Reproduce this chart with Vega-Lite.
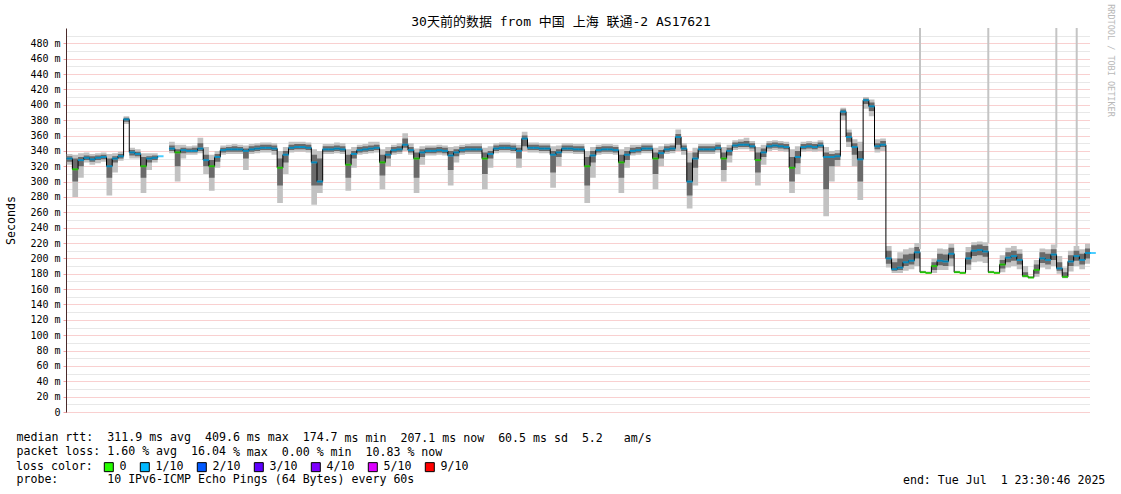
{
"$schema":"https://vega.github.io/schema/vega-lite/v6.json",
"width":1024,"height":384,
"autosize":{"type":"none"},
"padding":{"left":66,"top":28,"right":31,"bottom":82},
"background":"#ffffff",
"title":{"text":"30天前的数据 from 中国 上海 联通-2 AS17621","font":"DejaVu Sans Mono, Noto Sans CJK SC","fontSize":13,"fontWeight":"normal","color":"#000000","anchor":"middle","frame":"group","dx":-17,"offset":-25},
"config":{"view":{"stroke":null},"axis":{"labelFont":"DejaVu Sans Mono","titleFont":"DejaVu Sans Mono","labelColor":"#000000","titleColor":"#000000","titleFontWeight":"normal"}},
"datasets":{
"s":[
{"t":"2025-06-02T00:00","m":330,"lo":322,"a":326,"b":333,"hi":336,"l":"1/10"},
{"t":"2025-06-02T04:00","m":316,"lo":280,"a":300,"b":330,"hi":335,"l":"0"},
{"t":"2025-06-02T08:00","m":328,"lo":305,"a":320,"b":332,"hi":337,"l":"1/10"},
{"t":"2025-06-02T12:00","m":331,"lo":325,"a":328,"b":334,"hi":338,"l":"1/10"},
{"t":"2025-06-02T16:00","m":329,"lo":322,"a":326,"b":333,"hi":336,"l":"1/10"},
{"t":"2025-06-02T20:00","m":331,"lo":324,"a":328,"b":334,"hi":337,"l":"1/10"},
{"t":"2025-06-03T00:00","m":332,"lo":326,"a":329,"b":335,"hi":338,"l":"1/10"},
{"t":"2025-06-03T04:00","m":320,"lo":282,"a":305,"b":330,"hi":336,"l":"1/10"},
{"t":"2025-06-03T08:00","m":330,"lo":312,"a":325,"b":333,"hi":337,"l":"1/10"},
{"t":"2025-06-03T12:00","m":333,"lo":327,"a":330,"b":336,"hi":339,"l":"1/10"},
{"t":"2025-06-03T16:00","m":381,"lo":375,"a":378,"b":383,"hi":385,"l":"1/10"},
{"t":"2025-06-03T20:00","m":338,"lo":330,"a":334,"b":341,"hi":344,"l":"1/10"},
{"t":"2025-06-04T00:00","m":336,"lo":330,"a":333,"b":339,"hi":342,"l":"1/10"},
{"t":"2025-06-04T04:00","m":320,"lo":285,"a":305,"b":332,"hi":337,"l":"0"},
{"t":"2025-06-04T08:00","m":330,"lo":315,"a":325,"b":333,"hi":337,"l":"1/10"},
{"t":"2025-06-04T12:00","m":331,"lo":325,"a":328,"b":334,"hi":337,"l":"1/10"},
{"t":"2025-06-04T16:00","m":333,"lo":327,"a":330,"b":336,"hi":340,"l":"1/10"},
{"t":"2025-06-04T20:00","m":null,"lo":null,"a":null,"b":null,"hi":null,"l":"1/10"},
{"t":"2025-06-05T00:00","m":343,"lo":337,"a":340,"b":347,"hi":352,"l":"1/10"},
{"t":"2025-06-05T04:00","m":338,"lo":300,"a":320,"b":342,"hi":348,"l":"0"},
{"t":"2025-06-05T08:00","m":341,"lo":330,"a":337,"b":344,"hi":348,"l":"1/10"},
{"t":"2025-06-05T12:00","m":340,"lo":335,"a":338,"b":343,"hi":346,"l":"1/10"},
{"t":"2025-06-05T16:00","m":340,"lo":335,"a":338,"b":344,"hi":347,"l":"1/10"},
{"t":"2025-06-05T20:00","m":343,"lo":337,"a":340,"b":350,"hi":357,"l":"1/10"},
{"t":"2025-06-06T00:00","m":328,"lo":310,"a":320,"b":335,"hi":345,"l":"1/10"},
{"t":"2025-06-06T04:00","m":320,"lo":288,"a":305,"b":328,"hi":335,"l":"0"},
{"t":"2025-06-06T08:00","m":332,"lo":318,"a":326,"b":336,"hi":340,"l":"1/10"},
{"t":"2025-06-06T12:00","m":341,"lo":335,"a":338,"b":344,"hi":347,"l":"1/10"},
{"t":"2025-06-06T16:00","m":342,"lo":336,"a":339,"b":345,"hi":348,"l":"1/10"},
{"t":"2025-06-06T20:00","m":342,"lo":336,"a":339,"b":346,"hi":349,"l":"1/10"},
{"t":"2025-06-07T00:00","m":342,"lo":336,"a":339,"b":345,"hi":348,"l":"1/10"},
{"t":"2025-06-07T04:00","m":340,"lo":315,"a":330,"b":343,"hi":347,"l":"1/10"},
{"t":"2025-06-07T08:00","m":342,"lo":336,"a":339,"b":346,"hi":349,"l":"1/10"},
{"t":"2025-06-07T12:00","m":343,"lo":337,"a":340,"b":347,"hi":350,"l":"1/10"},
{"t":"2025-06-07T16:00","m":344,"lo":338,"a":341,"b":348,"hi":351,"l":"1/10"},
{"t":"2025-06-07T20:00","m":344,"lo":338,"a":341,"b":348,"hi":351,"l":"1/10"},
{"t":"2025-06-08T00:00","m":343,"lo":335,"a":340,"b":347,"hi":350,"l":"1/10"},
{"t":"2025-06-08T04:00","m":318,"lo":272,"a":295,"b":330,"hi":340,"l":"0"},
{"t":"2025-06-08T08:00","m":335,"lo":310,"a":325,"b":340,"hi":345,"l":"1/10"},
{"t":"2025-06-08T12:00","m":344,"lo":338,"a":341,"b":348,"hi":352,"l":"1/10"},
{"t":"2025-06-08T16:00","m":345,"lo":339,"a":342,"b":349,"hi":352,"l":"1/10"},
{"t":"2025-06-08T20:00","m":345,"lo":339,"a":342,"b":349,"hi":352,"l":"1/10"},
{"t":"2025-06-09T00:00","m":344,"lo":338,"a":341,"b":348,"hi":351,"l":"1/10"},
{"t":"2025-06-09T04:00","m":325,"lo":270,"a":295,"b":335,"hi":342,"l":"1/10"},
{"t":"2025-06-09T08:00","m":300,"lo":285,"a":295,"b":330,"hi":340,"l":"1/10"},
{"t":"2025-06-09T12:00","m":342,"lo":336,"a":339,"b":346,"hi":349,"l":"1/10"},
{"t":"2025-06-09T16:00","m":342,"lo":336,"a":339,"b":346,"hi":349,"l":"1/10"},
{"t":"2025-06-09T20:00","m":343,"lo":337,"a":340,"b":347,"hi":351,"l":"1/10"},
{"t":"2025-06-10T00:00","m":342,"lo":336,"a":339,"b":346,"hi":350,"l":"1/10"},
{"t":"2025-06-10T04:00","m":322,"lo":288,"a":305,"b":335,"hi":342,"l":"0"},
{"t":"2025-06-10T08:00","m":336,"lo":318,"a":330,"b":340,"hi":345,"l":"1/10"},
{"t":"2025-06-10T12:00","m":341,"lo":335,"a":338,"b":345,"hi":348,"l":"1/10"},
{"t":"2025-06-10T16:00","m":342,"lo":336,"a":339,"b":346,"hi":349,"l":"1/10"},
{"t":"2025-06-10T20:00","m":343,"lo":337,"a":340,"b":347,"hi":352,"l":"1/10"},
{"t":"2025-06-11T00:00","m":344,"lo":338,"a":341,"b":348,"hi":352,"l":"1/10"},
{"t":"2025-06-11T04:00","m":325,"lo":290,"a":308,"b":335,"hi":342,"l":"0"},
{"t":"2025-06-11T08:00","m":335,"lo":320,"a":330,"b":340,"hi":345,"l":"1/10"},
{"t":"2025-06-11T12:00","m":341,"lo":335,"a":338,"b":345,"hi":348,"l":"1/10"},
{"t":"2025-06-11T16:00","m":342,"lo":336,"a":339,"b":346,"hi":350,"l":"1/10"},
{"t":"2025-06-11T20:00","m":348,"lo":340,"a":344,"b":356,"hi":363,"l":"1/10"},
{"t":"2025-06-12T00:00","m":341,"lo":335,"a":338,"b":345,"hi":350,"l":"1/10"},
{"t":"2025-06-12T04:00","m":330,"lo":285,"a":305,"b":338,"hi":343,"l":"0"},
{"t":"2025-06-12T08:00","m":338,"lo":322,"a":332,"b":342,"hi":346,"l":"1/10"},
{"t":"2025-06-12T12:00","m":340,"lo":334,"a":337,"b":344,"hi":347,"l":"1/10"},
{"t":"2025-06-12T16:00","m":340,"lo":334,"a":337,"b":344,"hi":347,"l":"1/10"},
{"t":"2025-06-12T20:00","m":341,"lo":335,"a":338,"b":345,"hi":348,"l":"1/10"},
{"t":"2025-06-13T00:00","m":340,"lo":334,"a":337,"b":344,"hi":347,"l":"1/10"},
{"t":"2025-06-13T04:00","m":334,"lo":295,"a":315,"b":340,"hi":345,"l":"1/10"},
{"t":"2025-06-13T08:00","m":338,"lo":325,"a":333,"b":342,"hi":346,"l":"1/10"},
{"t":"2025-06-13T12:00","m":341,"lo":335,"a":338,"b":345,"hi":348,"l":"1/10"},
{"t":"2025-06-13T16:00","m":342,"lo":336,"a":339,"b":346,"hi":349,"l":"1/10"},
{"t":"2025-06-13T20:00","m":342,"lo":336,"a":339,"b":346,"hi":350,"l":"1/10"},
{"t":"2025-06-14T00:00","m":342,"lo":336,"a":339,"b":346,"hi":350,"l":"1/10"},
{"t":"2025-06-14T04:00","m":330,"lo":290,"a":310,"b":338,"hi":344,"l":"0"},
{"t":"2025-06-14T08:00","m":336,"lo":318,"a":330,"b":340,"hi":346,"l":"1/10"},
{"t":"2025-06-14T12:00","m":343,"lo":337,"a":340,"b":347,"hi":350,"l":"1/10"},
{"t":"2025-06-14T16:00","m":344,"lo":338,"a":341,"b":348,"hi":351,"l":"1/10"},
{"t":"2025-06-14T20:00","m":344,"lo":338,"a":341,"b":348,"hi":351,"l":"1/10"},
{"t":"2025-06-15T00:00","m":343,"lo":337,"a":340,"b":347,"hi":350,"l":"1/10"},
{"t":"2025-06-15T04:00","m":340,"lo":318,"a":330,"b":344,"hi":348,"l":"1/10"},
{"t":"2025-06-15T08:00","m":356,"lo":340,"a":346,"b":360,"hi":365,"l":"1/10"},
{"t":"2025-06-15T12:00","m":344,"lo":338,"a":341,"b":348,"hi":351,"l":"1/10"},
{"t":"2025-06-15T16:00","m":344,"lo":338,"a":341,"b":348,"hi":351,"l":"1/10"},
{"t":"2025-06-15T20:00","m":343,"lo":337,"a":340,"b":347,"hi":350,"l":"1/10"},
{"t":"2025-06-16T00:00","m":343,"lo":337,"a":340,"b":347,"hi":350,"l":"1/10"},
{"t":"2025-06-16T04:00","m":335,"lo":292,"a":312,"b":340,"hi":346,"l":"1/10"},
{"t":"2025-06-16T08:00","m":338,"lo":320,"a":332,"b":342,"hi":347,"l":"1/10"},
{"t":"2025-06-16T12:00","m":343,"lo":337,"a":340,"b":347,"hi":350,"l":"1/10"},
{"t":"2025-06-16T16:00","m":343,"lo":337,"a":340,"b":347,"hi":350,"l":"1/10"},
{"t":"2025-06-16T20:00","m":342,"lo":336,"a":339,"b":346,"hi":349,"l":"1/10"},
{"t":"2025-06-17T00:00","m":342,"lo":336,"a":339,"b":346,"hi":349,"l":"1/10"},
{"t":"2025-06-17T04:00","m":320,"lo":272,"a":295,"b":332,"hi":340,"l":"0"},
{"t":"2025-06-17T08:00","m":334,"lo":305,"a":325,"b":340,"hi":345,"l":"1/10"},
{"t":"2025-06-17T12:00","m":341,"lo":335,"a":338,"b":345,"hi":348,"l":"1/10"},
{"t":"2025-06-17T16:00","m":342,"lo":336,"a":339,"b":346,"hi":349,"l":"1/10"},
{"t":"2025-06-17T20:00","m":342,"lo":336,"a":339,"b":346,"hi":349,"l":"1/10"},
{"t":"2025-06-18T00:00","m":341,"lo":335,"a":338,"b":345,"hi":348,"l":"1/10"},
{"t":"2025-06-18T04:00","m":325,"lo":285,"a":305,"b":335,"hi":342,"l":"0"},
{"t":"2025-06-18T08:00","m":335,"lo":318,"a":328,"b":340,"hi":345,"l":"1/10"},
{"t":"2025-06-18T12:00","m":340,"lo":334,"a":337,"b":344,"hi":348,"l":"1/10"},
{"t":"2025-06-18T16:00","m":341,"lo":335,"a":338,"b":345,"hi":348,"l":"1/10"},
{"t":"2025-06-18T20:00","m":343,"lo":337,"a":340,"b":347,"hi":350,"l":"1/10"},
{"t":"2025-06-19T00:00","m":343,"lo":337,"a":340,"b":347,"hi":350,"l":"1/10"},
{"t":"2025-06-19T04:00","m":330,"lo":290,"a":310,"b":338,"hi":344,"l":"0"},
{"t":"2025-06-19T08:00","m":337,"lo":320,"a":330,"b":341,"hi":346,"l":"1/10"},
{"t":"2025-06-19T12:00","m":342,"lo":336,"a":339,"b":346,"hi":349,"l":"1/10"},
{"t":"2025-06-19T16:00","m":343,"lo":337,"a":340,"b":347,"hi":350,"l":"1/10"},
{"t":"2025-06-19T20:00","m":358,"lo":340,"a":348,"b":362,"hi":368,"l":"1/10"},
{"t":"2025-06-20T00:00","m":343,"lo":335,"a":340,"b":347,"hi":350,"l":"1/10"},
{"t":"2025-06-20T04:00","m":300,"lo":265,"a":282,"b":325,"hi":338,"l":"1/10"},
{"t":"2025-06-20T08:00","m":330,"lo":295,"a":318,"b":338,"hi":344,"l":"1/10"},
{"t":"2025-06-20T12:00","m":342,"lo":336,"a":339,"b":346,"hi":349,"l":"1/10"},
{"t":"2025-06-20T16:00","m":342,"lo":336,"a":339,"b":346,"hi":349,"l":"1/10"},
{"t":"2025-06-20T20:00","m":342,"lo":336,"a":339,"b":346,"hi":349,"l":"1/10"},
{"t":"2025-06-21T00:00","m":344,"lo":338,"a":341,"b":348,"hi":351,"l":"1/10"},
{"t":"2025-06-21T04:00","m":330,"lo":300,"a":315,"b":338,"hi":345,"l":"0"},
{"t":"2025-06-21T08:00","m":340,"lo":325,"a":334,"b":344,"hi":348,"l":"1/10"},
{"t":"2025-06-21T12:00","m":347,"lo":341,"a":344,"b":351,"hi":354,"l":"1/10"},
{"t":"2025-06-21T16:00","m":348,"lo":342,"a":345,"b":352,"hi":355,"l":"1/10"},
{"t":"2025-06-21T20:00","m":348,"lo":342,"a":345,"b":353,"hi":357,"l":"1/10"},
{"t":"2025-06-22T00:00","m":346,"lo":340,"a":343,"b":350,"hi":353,"l":"1/10"},
{"t":"2025-06-22T04:00","m":328,"lo":295,"a":312,"b":338,"hi":345,"l":"0"},
{"t":"2025-06-22T08:00","m":338,"lo":322,"a":332,"b":343,"hi":348,"l":"1/10"},
{"t":"2025-06-22T12:00","m":346,"lo":340,"a":343,"b":350,"hi":353,"l":"1/10"},
{"t":"2025-06-22T16:00","m":347,"lo":341,"a":344,"b":351,"hi":354,"l":"1/10"},
{"t":"2025-06-22T20:00","m":346,"lo":340,"a":343,"b":350,"hi":353,"l":"1/10"},
{"t":"2025-06-23T00:00","m":345,"lo":339,"a":342,"b":349,"hi":352,"l":"1/10"},
{"t":"2025-06-23T04:00","m":318,"lo":285,"a":300,"b":332,"hi":342,"l":"0"},
{"t":"2025-06-23T08:00","m":332,"lo":310,"a":324,"b":340,"hi":346,"l":"1/10"},
{"t":"2025-06-23T12:00","m":345,"lo":339,"a":342,"b":349,"hi":352,"l":"1/10"},
{"t":"2025-06-23T16:00","m":346,"lo":340,"a":343,"b":350,"hi":353,"l":"1/10"},
{"t":"2025-06-23T20:00","m":345,"lo":339,"a":342,"b":349,"hi":352,"l":"1/10"},
{"t":"2025-06-24T00:00","m":347,"lo":340,"a":344,"b":351,"hi":354,"l":"1/10"},
{"t":"2025-06-24T04:00","m":332,"lo":255,"a":290,"b":338,"hi":345,"l":"1/10"},
{"t":"2025-06-24T08:00","m":332,"lo":300,"a":320,"b":336,"hi":340,"l":"1/10"},
{"t":"2025-06-24T12:00","m":333,"lo":320,"a":328,"b":337,"hi":341,"l":"1/10"},
{"t":"2025-06-24T16:00","m":391,"lo":380,"a":386,"b":394,"hi":396,"l":"1/10"},
{"t":"2025-06-24T20:00","m":358,"lo":345,"a":352,"b":364,"hi":368,"l":"1/10"},
{"t":"2025-06-25T00:00","m":345,"lo":320,"a":335,"b":350,"hi":355,"l":"1/10"},
{"t":"2025-06-25T04:00","m":329,"lo":276,"a":300,"b":340,"hi":352,"l":"1/10"},
{"t":"2025-06-25T08:00","m":406,"lo":395,"a":401,"b":408,"hi":410,"l":"1/10"},
{"t":"2025-06-25T12:00","m":398,"lo":385,"a":392,"b":403,"hi":407,"l":"1/10"},
{"t":"2025-06-25T16:00","m":346,"lo":338,"a":342,"b":350,"hi":355,"l":"1/10"},
{"t":"2025-06-25T20:00","m":348,"lo":340,"a":345,"b":353,"hi":356,"l":"1/10"},
{"t":"2025-06-26T00:00","m":200,"lo":188,"a":193,"b":210,"hi":216,"l":"1/10"},
{"t":"2025-06-26T04:00","m":186,"lo":181,"a":184,"b":195,"hi":200,"l":"1/10"},
{"t":"2025-06-26T08:00","m":188,"lo":181,"a":185,"b":200,"hi":208,"l":"1/10"},
{"t":"2025-06-26T12:00","m":195,"lo":184,"a":190,"b":205,"hi":212,"l":"1/10"},
{"t":"2025-06-26T16:00","m":197,"lo":186,"a":192,"b":206,"hi":214,"l":"1/10"},
{"t":"2025-06-26T20:00","m":208,"lo":190,"a":200,"b":215,"hi":220,"l":"1/10"},
{"t":"2025-06-27T00:00","m":182,"lo":181,"a":181,"b":183,"hi":184,"l":"0"},
{"t":"2025-06-27T04:00","m":181,"lo":180,"a":181,"b":182,"hi":183,"l":"0"},
{"t":"2025-06-27T08:00","m":190,"lo":181,"a":185,"b":195,"hi":200,"l":"0"},
{"t":"2025-06-27T12:00","m":197,"lo":185,"a":191,"b":206,"hi":213,"l":"1/10"},
{"t":"2025-06-27T16:00","m":196,"lo":185,"a":190,"b":205,"hi":212,"l":"1/10"},
{"t":"2025-06-27T20:00","m":206,"lo":190,"a":200,"b":214,"hi":219,"l":"1/10"},
{"t":"2025-06-28T00:00","m":182,"lo":181,"a":181,"b":183,"hi":184,"l":"0"},
{"t":"2025-06-28T04:00","m":181,"lo":180,"a":181,"b":182,"hi":183,"l":"0"},
{"t":"2025-06-28T08:00","m":200,"lo":185,"a":192,"b":208,"hi":215,"l":"1/10"},
{"t":"2025-06-28T12:00","m":210,"lo":195,"a":203,"b":217,"hi":221,"l":"1/10"},
{"t":"2025-06-28T16:00","m":211,"lo":196,"a":204,"b":218,"hi":222,"l":"1/10"},
{"t":"2025-06-28T20:00","m":209,"lo":194,"a":202,"b":216,"hi":221,"l":"1/10"},
{"t":"2025-06-29T00:00","m":182,"lo":181,"a":181,"b":183,"hi":184,"l":"0"},
{"t":"2025-06-29T04:00","m":181,"lo":180,"a":181,"b":182,"hi":183,"l":"0"},
{"t":"2025-06-29T08:00","m":192,"lo":182,"a":187,"b":198,"hi":204,"l":"0"},
{"t":"2025-06-29T12:00","m":201,"lo":188,"a":195,"b":208,"hi":214,"l":"1/10"},
{"t":"2025-06-29T16:00","m":203,"lo":190,"a":197,"b":210,"hi":216,"l":"1/10"},
{"t":"2025-06-29T20:00","m":198,"lo":186,"a":192,"b":206,"hi":212,"l":"1/10"},
{"t":"2025-06-30T00:00","m":177,"lo":175,"a":176,"b":182,"hi":190,"l":"0"},
{"t":"2025-06-30T04:00","m":175,"lo":174,"a":175,"b":176,"hi":177,"l":"0"},
{"t":"2025-06-30T08:00","m":185,"lo":176,"a":180,"b":192,"hi":198,"l":"0"},
{"t":"2025-06-30T12:00","m":200,"lo":188,"a":194,"b":208,"hi":213,"l":"1/10"},
{"t":"2025-06-30T16:00","m":198,"lo":186,"a":192,"b":206,"hi":212,"l":"1/10"},
{"t":"2025-06-30T20:00","m":205,"lo":190,"a":198,"b":212,"hi":218,"l":"1/10"},
{"t":"2025-07-01T00:00","m":187,"lo":180,"a":184,"b":195,"hi":203,"l":"1/10"},
{"t":"2025-07-01T04:00","m":176,"lo":174,"a":175,"b":182,"hi":188,"l":"0"},
{"t":"2025-07-01T08:00","m":196,"lo":183,"a":190,"b":204,"hi":210,"l":"1/10"},
{"t":"2025-07-01T12:00","m":203,"lo":190,"a":197,"b":210,"hi":216,"l":"1/10"},
{"t":"2025-07-01T16:00","m":198,"lo":186,"a":192,"b":206,"hi":212,"l":"1/10"},
{"t":"2025-07-01T20:00","m":207,"lo":193,"a":200,"b":213,"hi":219,"l":"1/10"},
{"t":"2025-07-01T23:30","m":207,"lo":193,"a":200,"b":213,"hi":219,"l":"1/10"}
],
"k":[
{"t":"2025-06-27T00:00","lo":212,"hi":500},
{"t":"2025-06-29T00:00","lo":220,"hi":500},
{"t":"2025-06-30T23:50","lo":214,"hi":500},
{"t":"2025-07-01T14:10","lo":212,"hi":500}
]},
"resolve":{"axis":{"y":"independent"}},
"layer":[
{"data":{"name":"s"},
 "mark":{"type":"area","interpolate":"step-after","color":"#c2c2c2"},
 "encoding":{
  "x":{"field":"t","type":"temporal","scale":{"domain":[{"year":2025,"month":6,"date":1,"hours":23,"minutes":30,"seconds":46},{"year":2025,"month":7,"date":1,"hours":23,"minutes":30,"seconds":46}]},
   "axis":{"orient":"bottom","grid":true,"gridColor":"#f2a0a0","gridDash":[1,1],"tickCount":{"interval":"day","step":1},"format":"%d %b",
    "labelExpr":"date(datum.value) % 2 == 1 ? datum.label : ''","labelOffset":17,"labelFontSize":10.3,"labelPadding":4,"labelOverlap":false,
    "ticks":false,"domain":true,"domainColor":"#000000","title":null}},
  "y":{"field":"lo","type":"quantitative","scale":{"domain":[0,500],"nice":false},
   "axis":{"orient":"left","grid":true,"gridColor":{"condition":{"test":"datum.value % 20 == 0","value":"#f2a0a0"},"value":"#d0d0d0"},"gridDash":[1,1],
    "values":[0,10,20,30,40,50,60,70,80,90,100,110,120,130,140,150,160,170,180,190,200,210,220,230,240,250,260,270,280,290,300,310,320,330,340,350,360,370,380,390,400,410,420,430,440,450,460,470,480,490],
    "labelExpr":"datum.value % 20 != 0 ? '' : (datum.value == 0 ? '0\u00a0\u00a0' : datum.value + ' m')","labelFontSize":10,"labelPadding":3,"labelOverlap":false,"labelBound":false,
    "ticks":true,"tickSize":3,"tickColor":"#f2a0a0","tickOpacity":{"condition":{"test":"datum.value % 20 == 0","value":1},"value":0},
    "domain":true,"domainColor":"#4a2a2a","domainWidth":1,
    "title":"Seconds","titleX":-55,"titleY":192,"titleFontSize":11.6,"titleAngle":-90,"titleAlign":"center","titleBaseline":"middle"}},
  "y2":{"field":"hi"}}},
{"data":{"name":"s"},
 "mark":{"type":"area","interpolate":"step-after","color":"#6a6a6a"},
 "encoding":{
  "x":{"field":"t","type":"temporal","axis":null},
  "y":{"field":"a","type":"quantitative",
   "axis":{"orient":"left","labels":false,"ticks":false,"domain":false,"grid":false,
    "title":"median rtt:\u00a0\u00a0311.9 ms avg\u00a0\u00a0409.6 ms max\u00a0\u00a0174.7 ms min\u00a0\u00a0207.1 ms now\u00a0\u00a060.5 ms sd\u00a0\u00a05.2\u00a0\u00a0\u00a0am/s",
    "titleX":267.6,"titleY":410,"titleFontSize":11.6,"titleAngle":0.01,"titleAlign":"center","titleBaseline":"middle"}},
  "y2":{"field":"b"}}},
{"data":{"name":"k"},
 "mark":{"type":"rule","color":"#c4c4c4","strokeWidth":2},
 "encoding":{
  "x":{"field":"t","type":"temporal","axis":null},
  "y":{"field":"lo","type":"quantitative",
   "axis":{"orient":"right","labels":false,"ticks":false,"domain":false,"grid":false,"title":"RRDTOOL / TOBI OETIKER","titleAngle":90,"titleX":20,"titleY":32,"titleAlign":"center","titleBaseline":"middle","titleColor":"#b8b8b8","titleFontSize":8.5}},
  "y2":{"field":"hi"}}},
{"data":{"name":"s"},
 "mark":{"type":"line","interpolate":"step-after","color":"#000000","strokeWidth":1},
 "encoding":{
  "x":{"field":"t","type":"temporal","axis":null},
  "y":{"field":"m","type":"quantitative",
   "axis":{"orient":"left","labels":false,"ticks":false,"domain":false,"grid":false,
    "title":"packet loss: 1.60 % avg\u00a0\u00a016.04 % max\u00a0\u00a00.00 % min\u00a0\u00a010.83 % now",
    "titleX":162.9,"titleY":424,"titleFontSize":11.6,"titleAngle":0.01,"titleAlign":"center","titleBaseline":"middle"}}}},
{"data":{"name":"s"},
 "mark":{"type":"tick","orient":"horizontal","size":6,"thickness":2,"xOffset":2.85},
 "encoding":{
  "x":{"field":"t","type":"temporal","axis":null},
  "y":{"field":"m","type":"quantitative",
   "axis":{"orient":"left","labels":false,"ticks":false,"domain":false,"grid":false,
    "title":"probe:\u00a0\u00a0\u00a0\u00a0\u00a0\u00a0\u00a010 IPv6-ICMP Echo Pings (64 Bytes) every 60s\u00a0\u00a0\u00a0\u00a0\u00a0\u00a0\u00a0\u00a0\u00a0\u00a0\u00a0\u00a0\u00a0\u00a0\u00a0\u00a0\u00a0\u00a0\u00a0\u00a0\u00a0\u00a0\u00a0\u00a0\u00a0\u00a0\u00a0\u00a0\u00a0\u00a0\u00a0\u00a0\u00a0\u00a0\u00a0\u00a0\u00a0\u00a0\u00a0\u00a0\u00a0\u00a0\u00a0\u00a0\u00a0\u00a0\u00a0\u00a0\u00a0\u00a0\u00a0\u00a0\u00a0\u00a0\u00a0\u00a0\u00a0\u00a0\u00a0\u00a0\u00a0\u00a0\u00a0\u00a0\u00a0\u00a0\u00a0\u00a0\u00a0\u00a0end: Tue Jul\u00a0\u00a01 23:30:46 2025",
    "titleX":494.4,"titleY":452,"titleFontSize":11.6,"titleAngle":0.01,"titleAlign":"center","titleBaseline":"middle"}},
  "color":{"field":"l","type":"nominal",
   "scale":{"domain":["0","1/10","2/10","3/10","4/10","5/10","9/10"],"range":["#26ff00","#00b8ff","#0059ff","#5e00ff","#7e00ff","#dd00ff","#ff0000"]},
   "legend":{"title":"loss color:","orient":"none","legendX":-50,"legendY":433,"direction":"horizontal","titleOrient":"left","titlePadding":10,"titleFont":"DejaVu Sans Mono","titleFontSize":11.6,"titleFontWeight":"normal","titleColor":"#000000",
    "labelFont":"DejaVu Sans Mono","labelFontSize":11.6,"labelColor":"#000000","labelOffset":5,"columnPadding":11,"symbolType":"square","symbolSize":81,"symbolStrokeColor":"#000000","symbolStrokeWidth":1,"symbolOpacity":1}}}}
]
}
